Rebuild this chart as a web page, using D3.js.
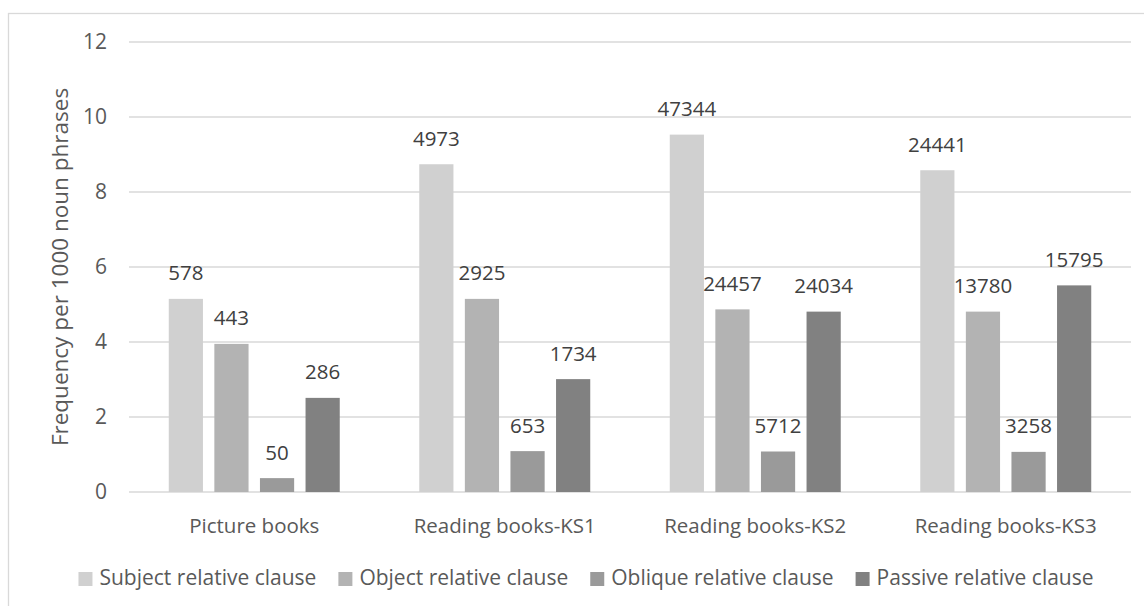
<!DOCTYPE html>
<html>
<head>
<meta charset="utf-8">
<script src="https://cdn.jsdelivr.net/npm/d3@7"></script>
<style>
  html, body { margin: 0; padding: 0; background: #fff; }
  svg { display: block; font-family: "Open Sans", "Noto Sans", sans-serif; }
</style>
</head>
<body>
<svg id="chart" width="1144" height="606"></svg>
<script>
// Book corpora on the x axis
const categories = ["Picture books", "Reading books-KS1", "Reading books-KS2", "Reading books-KS3"];
// Relative clause types (legend order)
const seriesNames = ["Subject relative clause", "Object relative clause", "Oblique relative clause", "Passive relative clause"];
// Frequency per 1000 noun phrases, one array per clause type (index = category)
const subjectFreq = [5.15, 8.74, 9.53, 8.58];
const objectFreq  = [3.95, 5.15, 4.87, 4.81];
const obliqueFreq = [0.37, 1.09, 1.08, 1.07];
const passiveFreq = [2.51, 3.01, 4.81, 5.51];
// Raw counts printed above each bar
const subjectCount = [578, 4973, 47344, 24441];
const objectCount  = [443, 2925, 24457, 13780];
const obliqueCount = [50, 653, 5712, 3258];
const passiveCount = [286, 1734, 24034, 15795];
// Value axis ticks
const yTicks = [0, 2, 4, 6, 8, 10, 12];

const freqs = [subjectFreq, objectFreq, obliqueFreq, passiveFreq];
const counts = [subjectCount, objectCount, obliqueCount, passiveCount];
const colors = ["#d0d0d0", "#b3b3b3", "#9a9a9a", "#818181"];

const svg = d3.select("#chart");

// outer chart frame (runs off the right and bottom edges)
svg.append("rect")
  .attr("x", 8.5).attr("y", 13.5)
  .attr("width", 1200).attr("height", 700)
  .attr("fill", "#fff").attr("stroke", "#d9d9d9").attr("stroke-width", 1.3);

const plot = { left: 129, right: 1131, top: 42, bottom: 492 };

const y = d3.scaleLinear().domain([0, 12]).range([plot.bottom, plot.top]);
const x0 = d3.scaleBand().domain(categories)
  .range([plot.left, plot.right])
  .paddingInner(0.3174).paddingOuter(0.1587);
const x1 = d3.scaleBand().domain(d3.range(seriesNames.length))
  .range([0, x0.bandwidth()])
  .paddingInner(0.25).paddingOuter(0);

// gridlines
svg.append("g")
  .selectAll("line")
  .data(yTicks)
  .join("line")
  .attr("x1", plot.left).attr("x2", plot.right)
  .attr("y1", d => y(d)).attr("y2", d => y(d))
  .attr("stroke", "#d9d9d9").attr("stroke-width", 1.5);

// value axis labels
const yAxis = d3.axisLeft(y).tickValues(yTicks).tickSize(0).tickPadding(0);
const gy = svg.append("g").attr("transform", `translate(107,0)`).call(yAxis);
gy.select(".domain").remove();
gy.selectAll("text")
  .attr("font-family", "Open Sans")
  .attr("font-size", 21).attr("fill", "#595959");

// category axis labels
const xAxis = d3.axisBottom(x0).tickSize(0).tickPadding(0);
const gx = svg.append("g").attr("transform", `translate(0,${plot.bottom})`).call(xAxis);
gx.select(".domain").remove();
gx.selectAll("text")
  .attr("font-family", "Open Sans")
  .attr("font-size", 20.5).attr("fill", "#595959")
  .attr("dy", null).attr("y", 41);

// bars and count labels
const groups = svg.append("g").selectAll("g")
  .data(categories)
  .join("g")
  .attr("transform", d => `translate(${x0(d)},0)`);

const cells = groups.selectAll("g")
  .data((c, ci) => seriesNames.map((s, si) => ({ si, v: freqs[si][ci], n: counts[si][ci] })))
  .join("g");

cells.append("rect")
  .attr("x", d => x1(d.si))
  .attr("width", x1.bandwidth())
  .attr("y", d => y(d.v))
  .attr("height", d => y(0) - y(d.v))
  .attr("fill", d => colors[d.si]);

cells.append("text")
  .attr("x", d => x1(d.si) + x1.bandwidth() / 2)
  .attr("y", d => y(d.v) - 18.5)
  .attr("text-anchor", "middle")
  .attr("font-size", 20.5).attr("fill", "#404040")
  .text(d => d.n);

// axis title
svg.append("text")
  .attr("transform", `translate(68,${(plot.top + plot.bottom) / 2}) rotate(-90)`)
  .attr("text-anchor", "middle")
  .attr("font-size", 22.5).attr("fill", "#595959")
  .text("Frequency per 1000 noun phrases");

// legend, centred under the chart
const legend = svg.append("g");
const items = legend.selectAll("g").data(seriesNames).join("g");
items.append("rect")
  .attr("width", 14).attr("height", 14)
  .attr("y", 572)
  .attr("fill", (d, i) => colors[i]);
items.append("text")
  .attr("x", 21).attr("y", 585)
  .attr("font-size", 21).attr("fill", "#595959")
  .text(d => d);
const widths = [];
items.each(function () {
  const w = this.querySelector("text").getComputedTextLength();
  widths.push(21 + w);
});
const gap = 22;
const total = d3.sum(widths) + gap * (widths.length - 1);
let cursor = 586 - total / 2;
items.attr("transform", (d, i) => {
  const t = `translate(${cursor},0)`;
  cursor += widths[i] + gap;
  return t;
});
</script>
</body>
</html>
